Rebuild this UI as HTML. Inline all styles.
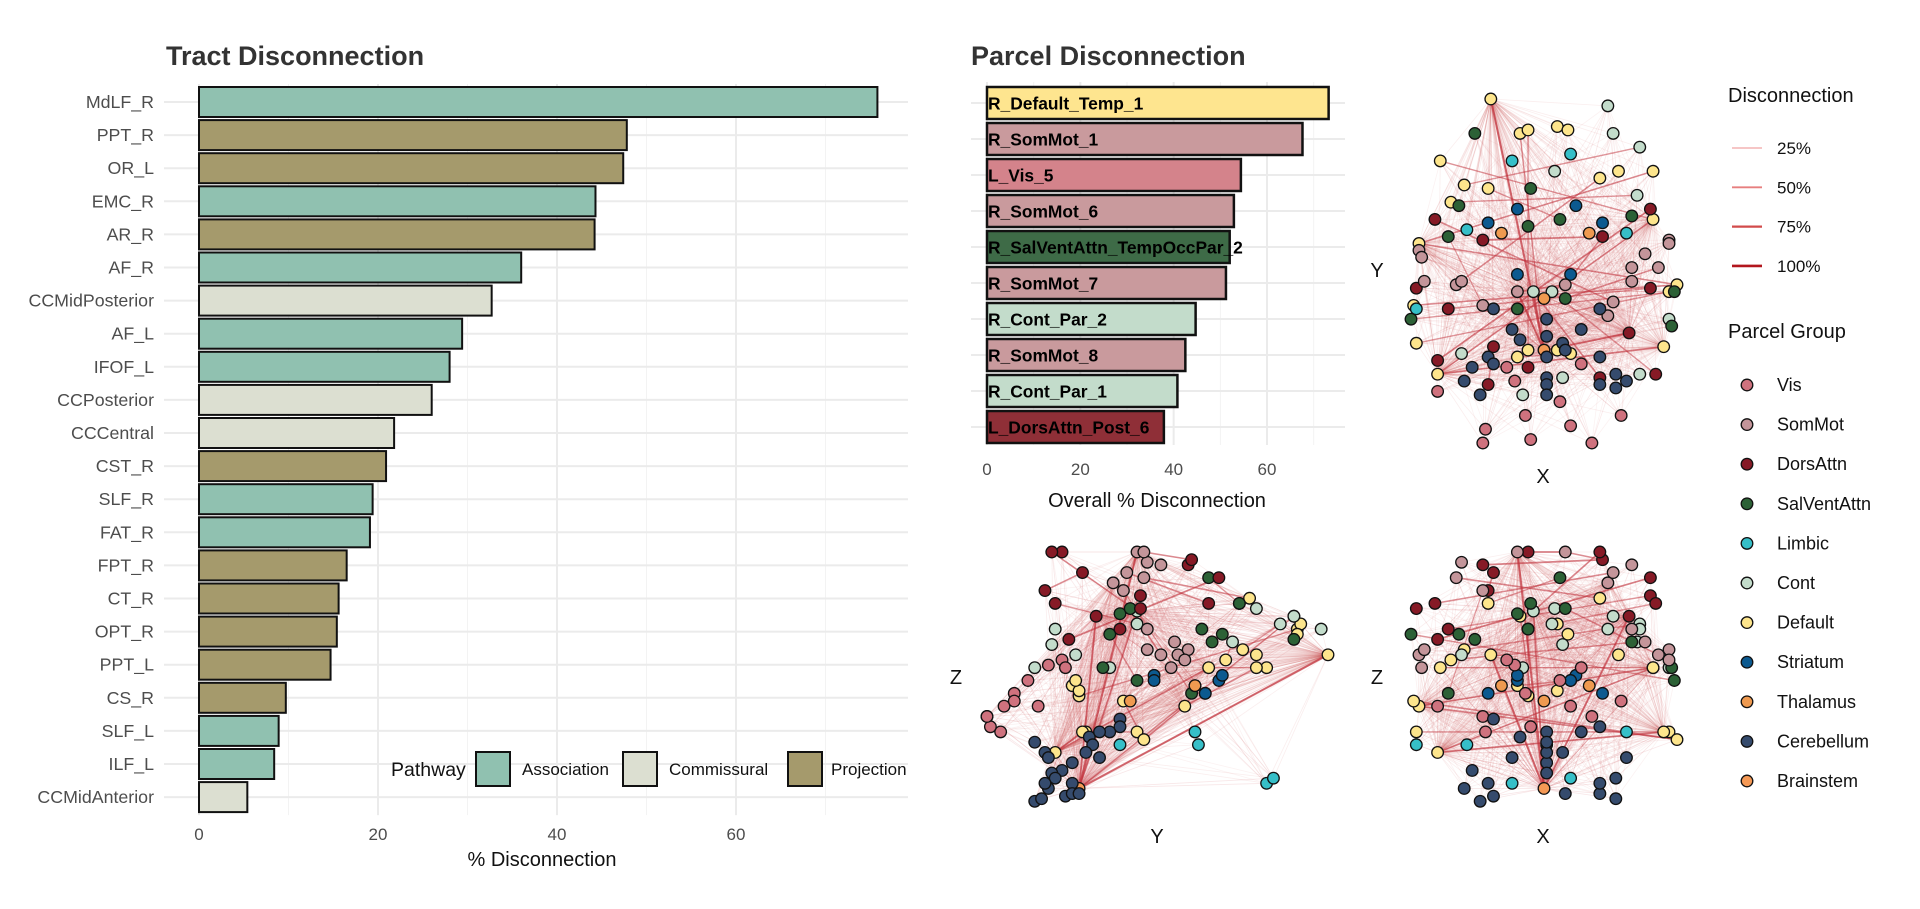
<!DOCTYPE html>
<html><head><meta charset="utf-8">
<style>
html,body{margin:0;padding:0;background:#fff;}
svg{display:block;font-family:"Liberation Sans",Arial,sans-serif;}
</style></head>
<body>
<svg id="fig" width="1920" height="909" viewBox="0 0 1920 909" xmlns="http://www.w3.org/2000/svg">
<text x="166" y="65" font-size="27" font-weight="bold" fill="#333">Tract Disconnection</text>
<text x="971" y="65" font-size="27" font-weight="bold" fill="#333">Parcel Disconnection</text>
<g id="tract"></g>
<g id="parcel"></g>
<g id="brains"></g>
<g id="legends"></g>
</svg>
<script>
// ---------- Tract data ----------
const tractNames = ["MdLF_R","PPT_R","OR_L","EMC_R","AR_R","AF_R","CCMidPosterior","AF_L","IFOF_L","CCPosterior","CCCentral","CST_R","SLF_R","FAT_R","FPT_R","CT_R","OPT_R","PPT_L","CS_R","SLF_L","ILF_L","CCMidAnterior"];
const tractValues = [75.8,47.8,47.4,44.3,44.2,36.0,32.7,29.4,28.0,26.0,21.8,20.9,19.4,19.1,16.5,15.6,15.4,14.7,9.7,8.9,8.4,5.4];
const tractPathway = ["A","P","P","A","P","A","C","A","A","C","C","P","A","A","P","P","P","P","P","A","A","C"];
const tractTicks = [0,20,40,60];
const pathwayKeys = ["A","C","P"];
const pathwayLabels = ["Association","Commissural","Projection"];

// ---------- Parcel data ----------
const parcelNames = ["R_Default_Temp_1","R_SomMot_1","L_Vis_5","R_SomMot_6","R_SalVentAttn_TempOccPar_2","R_SomMot_7","R_Cont_Par_2","R_SomMot_8","R_Cont_Par_1","L_DorsAttn_Post_6"];
const parcelValues = [73.2,67.6,54.4,52.9,52.0,51.2,44.7,42.5,40.8,37.9];
const parcelGroup = ["Default","SomMot","Vis","SomMot","SalVentAttn","SomMot","Cont","SomMot","Cont","DorsAttn"];
const parcelTicks = [0,20,40,60];

// ---------- Network data (x: left-right, y: posterior-anterior, z: inferior-superior; 0-100) ----------
const groupNames = ["Vis","SomMot","DorsAttn","SalVentAttn","Limbic","Cont","Default","Striatum","Thalamus","Cerebellum","Brainstem"];
const nodes = [
 [30,100,60,"Default"],[41,90,75,"Default"],[44,91,70,"Default"],[55,92,72,"Default"],[59,91,68,"Default"],[11,82,55,"Default"],[20,75,62,"Default"],[29,74,80,"Default"],[71,77,82,"Default"],[78,79,60,"Default"],[91,79,55,"Default"],[15,70,58,"Default"],[91,65,55,"Default"],[3,58,40,"Default"],[1,40,42,"Default"],[2,29,30,"Default"],[10,20,22,"Default"],[97,44,30,"Default"],[100,46,27,"Default"],[40,25,48,"Default"],[44,27,44,"Default"],[55,27,46,"Default"],[60,26,50,"Default"],[95,28,30,"Default"],
 [74,98,70,"Cont"],[76,90,75,"Cont"],[86,86,72,"Cont"],[54,79,78,"Cont"],[85,72,65,"Cont"],[46,44,77,"Cont"],[53,44,72,"Cont"],[19,26,60,"Cont"],[57,19,64,"Cont"],[42,14,55,"Cont"],[86,20,70,"Cont"],[97,36,55,"Cont"],
 [24,90,66,"SalVentAttn"],[45,74,80,"SalVentAttn"],[18,69,68,"SalVentAttn"],[44,63,70,"SalVentAttn"],[56,65,90,"SalVentAttn"],[14,60,45,"SalVentAttn"],[83,66,65,"SalVentAttn"],[40,39,76,"SalVentAttn"],[58,42,78,"SalVentAttn"],[0,36,68,"SalVentAttn"],[98,34,55,"SalVentAttn"],[99,44,50,"SalVentAttn"],
 [38,82,10,"Limbic"],[60,84,12,"Limbic"],[21,62,25,"Limbic"],[81,61,30,"Limbic"],[2,39,25,"Limbic"],
 [40,68,50,"Striatum"],[62,69,52,"Striatum"],[29,64,45,"Striatum"],[72,64,45,"Striatum"],[40,49,52,"Striatum"],[60,49,50,"Striatum"],
 [34,61,48,"Thalamus"],[67,61,48,"Thalamus"],[50,42,42,"Thalamus"],
 [50,27,8,"Brainstem"],
 [9,65,80,"DorsAttn"],[27,59,95,"DorsAttn"],[72,60,97,"DorsAttn"],[90,68,90,"DorsAttn"],[2,45,78,"DorsAttn"],[14,39,70,"DorsAttn"],[90,45,83,"DorsAttn"],[82,32,75,"DorsAttn"],[10,24,66,"DorsAttn"],[31,28,92,"DorsAttn"],[44,22,100,"DorsAttn"],[71,19,100,"DorsAttn"],[29,17,85,"DorsAttn"],[92,20,80,"DorsAttn"],
 [10,15,40,"Vis"],[28,4,30,"Vis"],[27,0,36,"Vis"],[45,1,32,"Vis"],[68,0,36,"Vis"],[60,5,40,"Vis"],[43,8,45,"Vis"],[56,12,50,"Vis"],[79,8,42,"Vis"],[39,18,56,"Vis"],[36,22,58,"Vis"],[64,23,55,"Vis"],
 [3,56,60,"SomMot"],[4,54,55,"SomMot"],[5,47,62,"SomMot"],[17,46,90,"SomMot"],[19,47,96,"SomMot"],[40,44,100,"SomMot"],[58,46,100,"SomMot"],[74,37,88,"SomMot"],[76,41,92,"SomMot"],[83,51,95,"SomMot"],[93,51,60,"SomMot"],[88,55,65,"SomMot"],[97,59,62,"SomMot"],[97,58,58,"SomMot"],[27,40,85,"SomMot"],[83,47,70,"SomMot"],
 [31,39,35,"Cerebellum"],[51,36,30,"Cerebellum"],[38,33,20,"Cerebellum"],[41,30,28,"Cerebellum"],[51,31,25,"Cerebellum"],[57,29,22,"Cerebellum"],[64,33,30,"Cerebellum"],[71,39,32,"Cerebellum"],[23,22,15,"Cerebellum"],[29,25,10,"Cerebellum"],[31,23,5,"Cerebellum"],[51,25,18,"Cerebellum"],[51,19,14,"Cerebellum"],[51,17,22,"Cerebellum"],[51,14,26,"Cerebellum"],[20,18,8,"Cerebellum"],[26,14,3,"Cerebellum"],[71,25,6,"Cerebellum"],[77,20,12,"Cerebellum"],[81,18,20,"Cerebellum"],[77,16,4,"Cerebellum"],[71,17,10,"Cerebellum"],[58,27,6,"Cerebellum"]
];
const hubNodes = [62,0,29,94,70,13,16,23,96,12];
const hubWeights = [0.35,0.25,0.3,0.25,0.3,0.2,0.25,0.2,0.2,0.2];
const edges = [[62,0,0.9],[62,70,0.8],[62,94,0.9],[62,29,0.7],[16,23,0.7],[16,12,0.6],[13,10,0.6],[13,18,0.6],[5,12,0.5],[63,97,0.6],[64,65,0.7],[94,95,0.7],[95,65,0.6],[14,18,0.6],[15,17,0.5],[44,99,0.6],[30,76,0.5],[92,8,0.6],[66,71,0.7],[7,40,0.5],[29,74,0.6],[1,62,0.5],[2,20,0.5],[41,103,0.4],[45,47,0.5],[72,75,0.6],[68,69,0.5],[19,22,0.5],[6,26,0.5],[11,28,0.5]];
const legendPcts = ["25%","50%","75%","100%"];
const legendPctVals = [0.25,0.5,0.75,1.0];

// ---------- helpers ----------
const NS="http://www.w3.org/2000/svg";
function mk(tag,attrs,parent){const e=document.createElementNS(NS,tag);for(const k in attrs)e.setAttribute(k,attrs[k]);parent.appendChild(e);return e;}
const pathwayColor={A:"#90c1b0",C:"#dcdfd1",P:"#a59a6c"};
const groupColor={Vis:"#cf727e",SomMot:"#c4959a",DorsAttn:"#861a26",SalVentAttn:"#2c6136",Limbic:"#36bfc8",Cont:"#c3dccb",Default:"#fde58c",Striatum:"#0c5a90",Thalamus:"#ef9a50",Cerebellum:"#354b6d",Brainstem:"#f59955"};
const barGroupColor={Vis:"#d4838b",SomMot:"#c99a9d",DorsAttn:"#8f2f37",SalVentAttn:"#3e6b47",Cont:"#c3dccb",Default:"#fee58f"};

// ---------- Tract chart ----------
(function(){
 const g=document.getElementById("tract");
 const x0=199, ppu=8.95, top=102, step=33.1, bh=30;
 const xs=v=>x0+v*ppu, ys=i=>top+i*step;
 const yEnd=ys(tractNames.length-1)+18;
 [10,30,50,70].forEach(t=>{const l=mk("line",{x1:xs(t),x2:xs(t),y1:84,y2:yEnd,stroke:"#f3f3f3","stroke-width":1},g);
 
 });
 tractTicks.forEach(t=>{const l=mk("line",{x1:xs(t),x2:xs(t),y1:84,y2:yEnd,stroke:"#ebebeb","stroke-width":2},g);
 
 
 const tx=mk("text",{x:xs(t),y:840,"font-size":17,fill:"#4d4d4d","text-anchor":"middle"},g);tx.textContent=t;
 
 });
 tractNames.forEach((n,i)=>{
  const l=mk("line",{x1:164,x2:908,y1:ys(i),y2:ys(i),stroke:"#ebebeb","stroke-width":2},g);
  
  
  const t=mk("text",{x:154,y:ys(i)+6,"font-size":17.8,fill:"#4d4d4d","text-anchor":"end"},g);t.textContent=n;
  
  
 });
 tractValues.forEach((v,i)=>{
  const r=mk("rect",{x:xs(0),y:ys(i)-bh/2,width:xs(v)-xs(0),height:bh,fill:pathwayColor[tractPathway[i]],stroke:"#111","stroke-width":2},g);
  
  
 });
 const at=mk("text",{x:542,y:866,"font-size":20,fill:"#111","text-anchor":"middle"},g);at.textContent="% Disconnection";
 
 
 // legend
 const lg=mk("g",{},g);
 
 
 const lt=mk("text",{x:391,y:776,"font-size":19.5,fill:"#111"},lg);lt.textContent="Pathway";
 
 
 const kx=[476,623,788], tx=[522,669,831];
 pathwayKeys.forEach((k,i)=>{
  const r=mk("rect",{x:kx[i],y:752,width:34,height:34,fill:pathwayColor[k],stroke:"#111","stroke-width":2},lg);
  
  
  const t=mk("text",{x:tx[i],y:775,"font-size":17,fill:"#111"},lg);t.textContent=pathwayLabels[i];
  
  
 });
})();

// ---------- Parcel chart ----------
(function(){
 const g=document.getElementById("parcel");
 const x0=987, ppu=4.667, top=103, step=36.0, bh=32;
 const xs=v=>x0+v*ppu, ys=i=>top+i*step;
 const yEnd=ys(parcelNames.length-1)+18;
 [10,30,50,70].forEach(t=>{const l=mk("line",{x1:xs(t),x2:xs(t),y1:82,y2:yEnd,stroke:"#f3f3f3","stroke-width":1},g);
 
 });
 parcelTicks.forEach(t=>{const l=mk("line",{x1:xs(t),x2:xs(t),y1:82,y2:yEnd,stroke:"#ebebeb","stroke-width":2},g);
 
 
 const tx=mk("text",{x:xs(t),y:475,"font-size":17,fill:"#4d4d4d","text-anchor":"middle"},g);tx.textContent=t;
 
 });
 parcelNames.forEach((n,i)=>{
  const l=mk("line",{x1:971,x2:1345,y1:ys(i),y2:ys(i),stroke:"#ebebeb","stroke-width":2},g);
  
  
 });
 parcelValues.forEach((v,i)=>{
  const r=mk("rect",{x:xs(0),y:ys(i)-bh/2,width:xs(v)-xs(0),height:bh,fill:barGroupColor[parcelGroup[i]],stroke:"#111","stroke-width":2.5},g);
  
  
  const t=mk("text",{x:xs(0)+1,y:ys(i)+6.5,"font-size":17.4,"font-weight":"bold",fill:"#000"},g);t.textContent=parcelNames[i];
  
  
 });
 const at=mk("text",{x:1157,y:507,"font-size":20,fill:"#111","text-anchor":"middle"},g);at.textContent="Overall % Disconnection";
 
 
})();

// ---------- Brain network plots ----------
(function(){
 const g=document.getElementById("brains");
 const panels=[
  {name:"axial-plot",h:0,v:1,x0:1411,xw:266,y0:443,yh:-344,xl:"X",yl:"Y",xlx:1543,xly:483,ylx:1377,yly:277},
  {name:"sagittal-plot",h:1,v:2,x0:987,xw:341,y0:809,yh:-257,xl:"Y",yl:"Z",xlx:1157,xly:843,ylx:956,yly:684},
  {name:"coronal-plot",h:0,v:2,x0:1411,xw:266,y0:809,yh:-257,xl:"X",yl:"Z",xlx:1543,xly:843,ylx:1377,yly:684}
 ];
 panels.forEach(p=>{
  const pg=mk("g",{},g);
  
  
  const px=n=>p.x0+n[p.h]/100*p.xw, py=n=>p.y0+n[p.v]/100*p.yh;
  const eg=mk("g",{},pg);
  
  
  hubNodes.forEach((h,hi)=>{
   nodes.forEach((n,j)=>{ if(j===h) return;
    const l=mk("line",{x1:px(nodes[h]),y1:py(nodes[h]),x2:px(n),y2:py(n),stroke:"#d0545a","stroke-width":0.8,"stroke-opacity":hubWeights[hi]*0.4},eg);
    
    
   });
  });
  edges.forEach(e=>{
   const a=nodes[e[0]],b=nodes[e[1]];
   const l=mk("line",{x1:px(a),y1:py(a),x2:px(b),y2:py(b),stroke:"#c0303a","stroke-width":0.6+e[2]*1.6,"stroke-opacity":0.25+e[2]*0.5},eg);
   
   
  });
  nodes.forEach(n=>{
   const c=mk("circle",{cx:px(n),cy:py(n),r:5.8,fill:groupColor[n[3]],stroke:"#111","stroke-width":1.3},pg);
   
   
  });
  const xl=mk("text",{x:p.xlx,y:p.xly,"font-size":20,fill:"#111","text-anchor":"middle"},pg);xl.textContent=p.xl;
  
  
  const yl=mk("text",{x:p.ylx,y:p.yly,"font-size":20,fill:"#111","text-anchor":"middle"},pg);yl.textContent=p.yl;
  
  
 });
})();

// ---------- Legends ----------
(function(){
 const g=document.getElementById("legends");
 const t1=mk("text",{x:1728,y:102,"font-size":20,fill:"#111"},g);t1.textContent="Disconnection";
 
 
 const lineCols=["#f4b3b3","#e77f7f","#d24b4b","#b2161e"];
 legendPcts.forEach((p,i)=>{
  const y=148+i*39.3;
  const l=mk("line",{x1:1732,x2:1762,y1:y,y2:y,stroke:lineCols[i],"stroke-width":1+legendPctVals[i]*1.6},g);
  
  
  const t=mk("text",{x:1777,y:y+6,"font-size":17,fill:"#111"},g);t.textContent=p;
  
  
 });
 const t2=mk("text",{x:1728,y:338,"font-size":20,fill:"#111"},g);t2.textContent="Parcel Group";
 
 
 groupNames.forEach((n,i)=>{
  const y=385+i*39.6;
  const c=mk("circle",{cx:1747,cy:y,r:5.8,fill:groupColor[n],stroke:"#111","stroke-width":1.3},g);
  
  
  const t=mk("text",{x:1777,y:y+6,"font-size":18,fill:"#111"},g);t.textContent=n;
  
  
 });
})();
</script>
</body></html>
